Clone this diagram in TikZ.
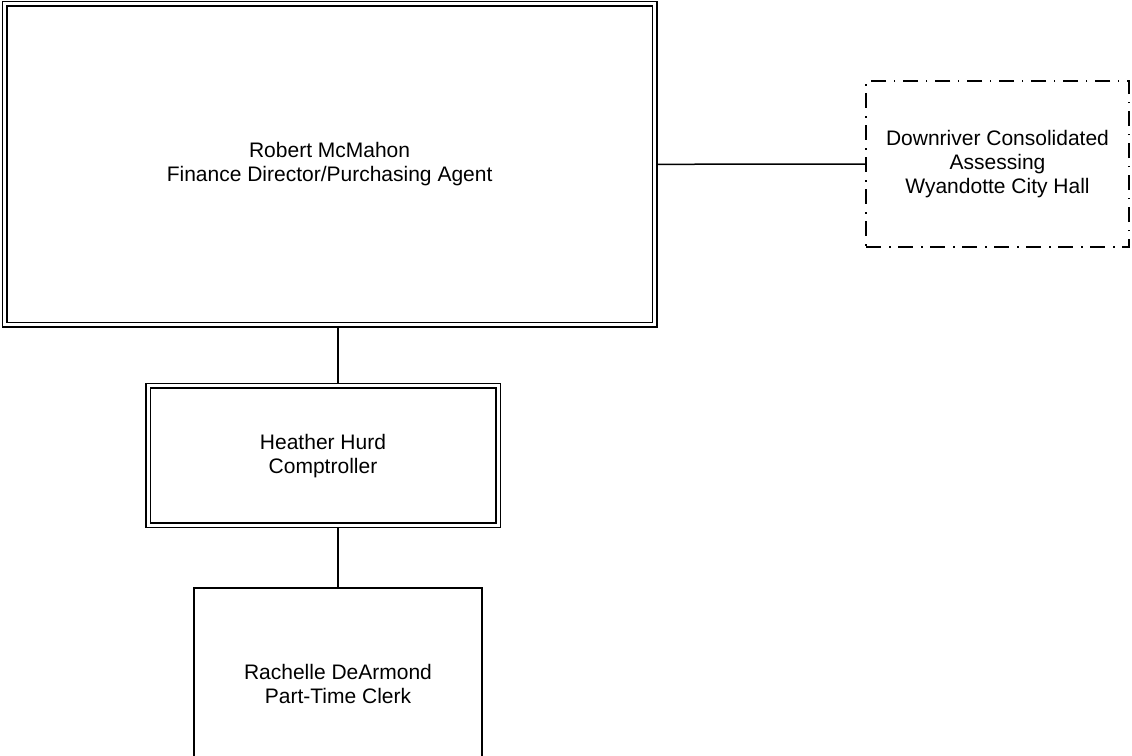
\documentclass[tikz,border=0pt]{standalone}
\usepackage{fontspec}
\setmainfont{Liberation Sans}
\begin{document}
\begin{tikzpicture}[x=1pt,y=-1pt]
\tikzset{
  unit/.style={draw, line width=1.5pt, inner sep=0pt, outer sep=0.75pt, align=center,
    font=\fontsize{21}{24}\selectfont},
  dblunit/.style={unit, double, double distance=3pt, outer sep=3pt},
  extunit/.style={unit, dash pattern=on 15pt off 8pt on 1.5pt off 7.5pt},
  link/.style={line width=1.5pt}
}
\useasboundingbox (0,0) rectangle (1132,755);
\clip (0,0) rectangle (1132,755);

% organisation units
\node[dblunit, minimum width=650.2pt, minimum height=321.1pt] (dir) at (329.6,164.3)
  {Robert McMahon\\Finance Director/Purchasing Agent};
\node[extunit, minimum width=263pt, minimum height=166pt] (assess) at (997.5,164)
  {Downriver Consolidated\\Assessing\\Wyandotte City Hall};
\node[dblunit, minimum width=350pt, minimum height=139.7pt] (comp) at (323,455.6)
  {Heather Hurd\\Comptroller};
\node[unit, minimum width=288pt, minimum height=192pt] (clerk) at (338,684)
  {Rachelle DeArmond\\Part-Time Clerk};

% reporting lines
\draw[link] (dir.east) -- (assess.west);
\draw[link] (dir.south -| clerk.north) -- (comp.north -| clerk.north);
\draw[link] (comp.south -| clerk.north) -- (clerk.north);
\end{tikzpicture}
\end{document}
